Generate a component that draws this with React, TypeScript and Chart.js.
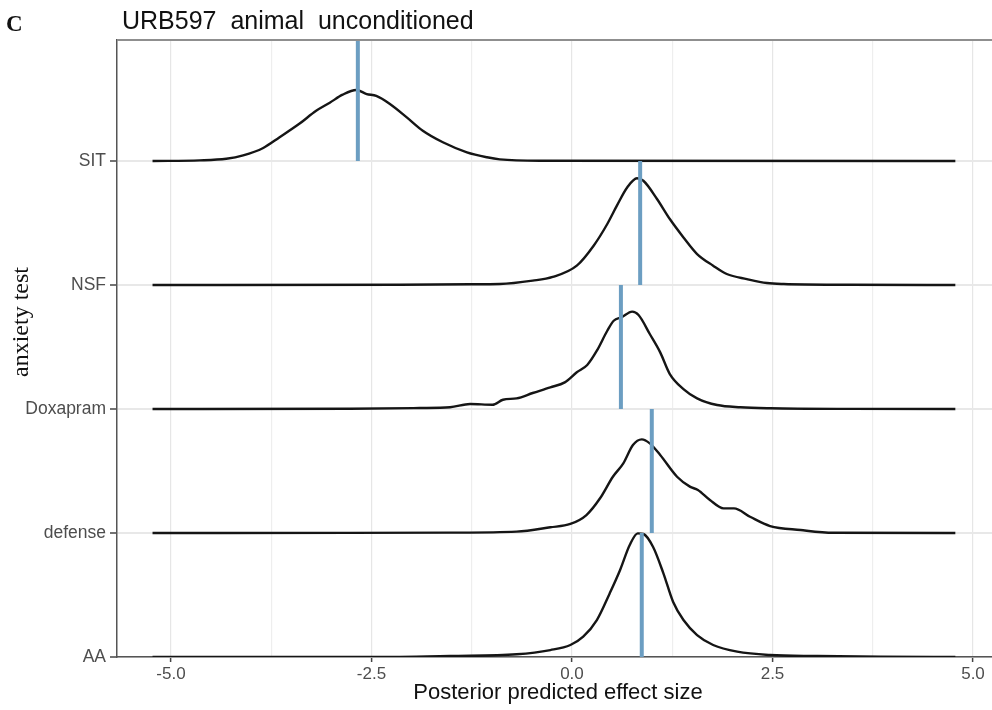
import React, { useEffect, useRef } from "react";
import { Chart, registerables } from "chart.js";

Chart.register(...registerables);

const categories = ["AA", "defense", "Doxapram", "NSF", "SIT"];
const xTicks = [-5, -3.75, -2.5, -1.25, 0, 1.25, 2.5, 3.75, 5];
const majorTicks = [-5, -2.5, 0, 2.5, 5];

// [effect size, ridge height in category units]
const aaDensity: [number, number][] = [
  [-5.23, 0], [-2.15, 0.001], [-1.52, 0.008], [-0.69, 0.022], [-0.27, 0.056], [-0.02, 0.097],
  [0.14, 0.164], [0.31, 0.298], [0.47, 0.513], [0.6, 0.702], [0.72, 0.903], [0.82, 0.997],
  [0.89, 0.992], [1.01, 0.889], [1.14, 0.675], [1.26, 0.446], [1.39, 0.298], [1.56, 0.177],
  [1.76, 0.097], [2.06, 0.043], [2.47, 0.016], [3.06, 0.008], [3.85, 0.002], [4.78, 0],
];
const defenseDensity: [number, number][] = [
  [-5.23, 0], [-2.77, 0.001], [-1.52, 0.003], [-0.69, 0.011], [-0.27, 0.046], [-0.02, 0.073],
  [0.18, 0.145], [0.35, 0.28], [0.51, 0.454], [0.64, 0.562], [0.76, 0.71], [0.87, 0.755],
  [0.97, 0.723], [1.1, 0.629], [1.31, 0.454], [1.47, 0.374], [1.57, 0.347], [1.72, 0.266],
  [1.89, 0.199], [2.02, 0.199], [2.22, 0.131], [2.47, 0.056], [2.85, 0.024], [3.26, 0.002], [4.78, 0],
];
const doxapramDensity: [number, number][] = [
  [-5.23, 0], [-2.77, 0.002], [-1.9, 0.008], [-1.52, 0.014], [-1.27, 0.04], [-0.99, 0.034],
  [-0.86, 0.075], [-0.69, 0.086], [-0.49, 0.129], [-0.27, 0.175], [-0.09, 0.215], [0.06, 0.296],
  [0.19, 0.355], [0.31, 0.47], [0.44, 0.631], [0.52, 0.712], [0.62, 0.74], [0.75, 0.785],
  [0.83, 0.758], [0.97, 0.605], [1.1, 0.457], [1.22, 0.282], [1.39, 0.161], [1.56, 0.086],
  [1.81, 0.032], [2.1, 0.014], [2.47, 0.006], [3.47, 0.001], [4.78, 0],
];
const nsfDensity: [number, number][] = [
  [-5.23, 0], [-2.15, 0.002], [-1.27, 0.006], [-0.9, 0.008], [-0.49, 0.035], [-0.24, 0.065],
  [0.06, 0.156], [0.27, 0.317], [0.44, 0.492], [0.56, 0.64], [0.69, 0.788], [0.81, 0.861],
  [0.89, 0.841], [1.06, 0.694], [1.22, 0.532], [1.39, 0.384], [1.56, 0.25], [1.76, 0.156],
  [1.93, 0.089], [2.18, 0.048], [2.43, 0.016], [2.64, 0.008], [3.47, 0.002], [4.78, 0],
];
const sitDensity: [number, number][] = [
  [-5.23, 0], [-4.64, 0.005], [-4.31, 0.018], [-4.1, 0.045], [-3.85, 0.105], [-3.65, 0.19],
  [-3.4, 0.3], [-3.19, 0.405], [-3.02, 0.47], [-2.86, 0.535], [-2.69, 0.573], [-2.56, 0.54],
  [-2.44, 0.525], [-2.27, 0.46], [-2.06, 0.352], [-1.86, 0.244], [-1.61, 0.151], [-1.31, 0.07],
  [-1.06, 0.03], [-0.9, 0.013], [-0.4, 0.002], [4.78, 0],
];
const densities = [aaDensity, defenseDensity, doxapramDensity, nsfDensity, sitDensity];
const medianLines = [0.87, 0.995, 0.61, 0.85, -2.67];

export default function App() {
  const ref = useRef<HTMLCanvasElement | null>(null);

  useEffect(() => {
    if (!ref.current) return;
    Chart.defaults.font.family = "'Liberation Sans', Arial, sans-serif";

    const blueSets = medianLines.map((v, i) => ({
      label: "median " + categories[i],
      data: [
        { x: v, y: i },
        { x: v, y: i + 1 },
      ],
      borderColor: "#6c9ec2",
      borderWidth: 4,
      pointRadius: 0,
      borderCapStyle: "butt" as const,
    }));
    const ridgeSets = densities.map((d, i) => ({
      label: categories[i],
      data: d.map(([x, h]) => ({ x, y: i + h })),
      borderColor: "#151515",
      borderWidth: 2.4,
      pointRadius: 0,
      cubicInterpolationMode: "monotone" as const,
      fill: false,
    }));

    const textPlugin = {
      id: "texts",
      afterDraw(chart: any) {
        const { ctx, chartArea } = chart;
        ctx.save();
        ctx.strokeStyle = "#8f8f8f";
        ctx.lineWidth = 2;
        ctx.beginPath();
        ctx.moveTo(chartArea.left, chartArea.top);
        ctx.lineTo(chartArea.right, chartArea.top);
        ctx.stroke();

        ctx.fillStyle = "#111";
        ctx.textBaseline = "alphabetic";
        ctx.textAlign = "left";
        ctx.font = "bold 23px 'Liberation Serif', serif";
        ctx.fillText("C", 6, 31);
        ctx.font = "25px 'Liberation Sans', sans-serif";
        ctx.fillText("URB597  animal  unconditioned", 122, 29);

        ctx.textAlign = "center";
        ctx.font = "22px 'Liberation Sans', sans-serif";
        ctx.fillText("Posterior predicted effect size", 558, 699);

        ctx.translate(28, 322);
        ctx.rotate(-Math.PI / 2);
        ctx.font = "24px 'Liberation Serif', serif";
        ctx.fillText("anxiety test", 0, 0);
        ctx.restore();
      },
    };

    const chart = new Chart(ref.current, {
      type: "line",
      data: { datasets: [...blueSets, ...ridgeSets] as any },
      options: {
        animation: false,
        responsive: false,
        maintainAspectRatio: false,
        layout: { padding: { left: 0, top: 40, right: 0, bottom: 0 } },
        plugins: { legend: { display: false }, tooltip: { enabled: false } },
        scales: {
          x: {
            type: "linear",
            min: -5.673,
            max: 5.237,
            afterBuildTicks: (scale: any) => {
              scale.ticks = xTicks.map((v) => ({ value: v }));
            },
            afterFit: (scale: any) => {
              scale.height = 53;
            },
            ticks: {
              autoSkip: false,
              maxRotation: 0,
              padding: 2,
              color: "#4d4d4d",
              font: { size: 17 },
              callback: (v: any) => (majorTicks.includes(Number(v)) ? Number(v).toFixed(1) : ""),
            },
            grid: {
              color: (c: any) => (c.tick && majorTicks.includes(c.tick.value) ? "#e6e6e6" : "#eeeeee"),
              lineWidth: 1.2,
              tickLength: 5,
              tickColor: (c: any) => (c.tick && majorTicks.includes(c.tick.value) ? "#444" : "rgba(0,0,0,0)"),
              tickWidth: 1.5,
            },
            border: { display: true, color: "#555", width: 1.5 },
          },
          y: {
            type: "linear",
            min: 0,
            max: 4.976,
            afterBuildTicks: (scale: any) => {
              scale.ticks = categories.map((_, i) => ({ value: i }));
            },
            afterFit: (scale: any) => {
              scale.width = 117;
            },
            ticks: {
              autoSkip: false,
              padding: 4,
              color: "#4d4d4d",
              font: { size: 17.5 },
              callback: (v: any) => categories[Number(v)] ?? "",
            },
            grid: {
              color: "#e8e8e8",
              lineWidth: 2,
              tickLength: 7,
              tickColor: "#444",
              tickWidth: 1.5,
            },
            border: { display: true, color: "#555", width: 1.5 },
          },
        },
      },
      plugins: [textPlugin],
    });
    return () => chart.destroy();
  }, []);

  return (
    <div style={{ position: "fixed", left: 0, top: 0, width: 992, height: 710, background: "#fff" }}>
      <canvas ref={ref} width={992} height={710} style={{ width: 992, height: 710 }} />
    </div>
  );
}
